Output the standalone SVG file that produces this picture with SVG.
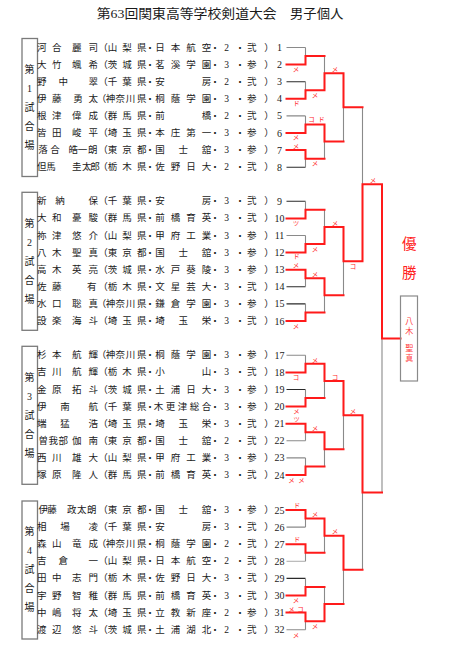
<svg xmlns="http://www.w3.org/2000/svg" width="459" height="650" viewBox="0 0 459 650">
<style>
.t{font-family:"Liberation Serif","Noto Sans CJK JP",serif;font-size:9.5px;fill:#1a1a1a;text-anchor:middle;dominant-baseline:central}
.n{font-family:"Liberation Serif","Noto Sans CJK JP",serif;font-size:10px;fill:#1a1a1a;text-anchor:middle;dominant-baseline:central}
.ttl{font-family:"Liberation Serif","Noto Sans CJK JP",serif;font-size:13px;fill:#1a1a1a;dominant-baseline:central}
.bx{fill:none;stroke:#7a7a7a;stroke-width:1.3}
.bt{font-family:"Liberation Serif","Noto Sans CJK JP",serif;font-size:10px;fill:#1a1a1a;text-anchor:middle;dominant-baseline:central}
.g{stroke:#8a8a8a;stroke-width:1.1;fill:none}
.k{stroke:#2a2a2a;stroke-width:1.1;fill:none}
.lg{stroke:#b0b0b0;stroke-width:1.1;fill:none}
.r{stroke:#ff1a1a;stroke-width:2;fill:none;stroke-linejoin:miter;stroke-linecap:square}
.lb{font-family:"Noto Sans CJK JP",sans-serif;font-size:6.5px;fill:#ff2a2a;text-anchor:middle;dominant-baseline:central}
.win{font-family:"Noto Sans CJK JP",sans-serif;font-size:14.5px;fill:#ff2020;text-anchor:middle;dominant-baseline:central}
.wn{font-family:"Noto Sans CJK JP",sans-serif;font-size:8px;fill:#ff4040;text-anchor:middle;dominant-baseline:central}
</style>

<text class="ttl" x="96.7" y="13.3" textLength="180" lengthAdjust="spacingAndGlyphs">第63回関東高等学校剣道大会</text>
<text class="ttl" x="290" y="13.3" textLength="53.3" lengthAdjust="spacingAndGlyphs">男子個人</text>

<g id="block1">
<rect class="bx" x="22" y="38.5" width="15.5" height="138"/>
<text class="bt" x="29.5" y="69.4">第</text><text class="bt" x="29.5" y="88.4">1</text><text class="bt" x="29.5" y="107.4">試</text><text class="bt" x="29.5" y="126.4">合</text><text class="bt" x="29.5" y="145.4">場</text>
</g>
<g id="block2">
<rect class="bx" x="22" y="192.3" width="15.5" height="138"/>
<text class="bt" x="29.5" y="223.2">第</text><text class="bt" x="29.5" y="242.2">2</text><text class="bt" x="29.5" y="261.2">試</text><text class="bt" x="29.5" y="280.2">合</text><text class="bt" x="29.5" y="299.2">場</text>
</g>
<g id="block3">
<rect class="bx" x="22" y="346.3" width="15.5" height="138"/>
<text class="bt" x="29.5" y="377.2">第</text><text class="bt" x="29.5" y="396.2">3</text><text class="bt" x="29.5" y="415.2">試</text><text class="bt" x="29.5" y="434.2">合</text><text class="bt" x="29.5" y="453.2">場</text>
</g>
<g id="block4">
<rect class="bx" x="22" y="501" width="15.5" height="138"/>
<text class="bt" x="29.5" y="531.9">第</text><text class="bt" x="29.5" y="550.9">4</text><text class="bt" x="29.5" y="569.9">試</text><text class="bt" x="29.5" y="588.9">合</text><text class="bt" x="29.5" y="607.9">場</text>
</g>

<g id="p1"><text class="t" y="47.5" x="41.7 56.7 76.7 93.3 103 112.5 127 141.7 150 160 175.5 191 206.5 215 226.7 240 251.7 269">河合麗司（山梨県・日本航空・2・弐）</text><text class="n" x="279.5" y="47.5">1</text></g>
<g id="p2"><text class="t" y="64.6" x="41.7 56.7 76.7 93.3 103 112.5 127 141.7 150 160 175.5 191 206.5 215 226.7 240 251.7 269">大竹颯希（茨城県・茗溪学園・3・参）</text><text class="n" x="279.5" y="64.6">2</text></g>
<g id="p3"><text class="t" y="81.7" x="41.7 63.3 93.3 103 112.5 127 141.7 150 160 206.5 215 226.7 240 251.7 269">野中翠（千葉県・安房・2・弐）</text><text class="n" x="279.5" y="81.7">3</text></g>
<g id="p4"><text class="t" y="98.8" x="41.7 56.7 78 93.3 101.5 110.5 120.3 130.5 141.7 150 160 175.5 191 206.5 215 226.7 240 251.7 269">伊藤勇太（神奈川県・桐蔭学園・3・参）</text><text class="n" x="279.5" y="98.8">4</text></g>
<g id="p5"><text class="t" y="115.9" x="41.7 56.7 76.7 93.3 103 112.5 127 141.7 150 160 206.5 215 226.7 240 251.7 269">根津偉成（群馬県・前橋・2・弐）</text><text class="n" x="279.5" y="115.9">5</text></g>
<g id="p6"><text class="t" y="133" x="41.7 56.7 76.7 93.3 103 112.5 127 141.7 150 160 175.5 191 206.5 215 226.7 240 251.7 269">皆田峻平（埼玉県・本庄第一・3・参）</text><text class="n" x="279.5" y="133">6</text></g>
<g id="p7"><text class="t" y="150.1" x="43 55 73.3 82.5 92.7 103 112.5 127 141.7 150 160 183.3 206.5 215 226.7 240 251.7 269">落合皓一朗（東京都・国士舘・3・参）</text><text class="n" x="279.5" y="150.1">7</text></g>
<g id="p8"><text class="t" y="167.2" x="41.7 51 76.7 86.7 95 103 112.5 127 141.7 150 160 175.5 191 206.5 215 226.7 240 251.7 269">但馬圭太郎（栃木県・佐野日大・2・弐）</text><text class="n" x="279.5" y="167.2">8</text></g>

<g id="p9"><text class="t" y="201.3" x="41.7 60 93.3 103 112.5 127 141.7 150 160 206.5 215 226.7 240 251.7 269">新納保（千葉県・安房・3・弐）</text><text class="n" x="279.5" y="201.3">9</text></g>
<g id="p10"><text class="t" y="218.4" x="41.7 56.7 76.7 93.3 103 112.5 127 141.7 150 160 175.5 191 206.5 215 226.7 240 251.7 269">大和憂駿（群馬県・前橋育英・3・弐）</text><text class="n" x="279.5" y="218.4">10</text></g>
<g id="p11"><text class="t" y="235.5" x="41.7 56.7 76.7 93.3 103 112.5 127 141.7 150 160 175.5 191 206.5 215 226.7 240 251.7 269">祢津悠介（山梨県・甲府工業・3・参）</text><text class="n" x="279.5" y="235.5">11</text></g>
<g id="p12"><text class="t" y="252.6" x="41.7 56.7 76.7 93.3 103 112.5 127 141.7 150 160 183.3 206.5 215 226.7 240 251.7 269">八木聖真（東京都・国士舘・3・参）</text><text class="n" x="279.5" y="252.6">12</text></g>
<g id="p13"><text class="t" y="269.7" x="41.7 56.7 76.7 93.3 103 112.5 127 141.7 150 160 175.5 191 206.5 215 226.7 240 251.7 269">高木英亮（茨城県・水戸葵陵・3・参）</text><text class="n" x="279.5" y="269.7">13</text></g>
<g id="p14"><text class="t" y="286.8" x="41.7 56.7 91.7 103 112.5 127 141.7 150 160 175.5 191 206.5 215 226.7 240 251.7 269">佐藤有（栃木県・文星芸大・3・弐）</text><text class="n" x="279.5" y="286.8">14</text></g>
<g id="p15"><text class="t" y="303.9" x="41.7 56.7 76.7 93.3 101.5 110.5 120.3 130.5 141.7 150 160 175.5 191 206.5 215 226.7 240 251.7 269">水口聡真（神奈川県・鎌倉学園・3・参）</text><text class="n" x="279.5" y="303.9">15</text></g>
<g id="p16"><text class="t" y="321" x="41.7 56.7 76.7 93.3 103 112.5 127 141.7 150 160 183.3 206.5 215 226.7 240 251.7 269">設楽海斗（埼玉県・埼玉栄・3・弐）</text><text class="n" x="279.5" y="321">16</text></g>

<g id="p17"><text class="t" y="355.3" x="41.7 56.7 76.7 93.3 101.5 110.5 120.3 130.5 141.7 150 160 175.5 191 206.5 215 226.7 240 251.7 269">杉本航輝（神奈川県・桐蔭学園・3・参）</text><text class="n" x="279.5" y="355.3">17</text></g>
<g id="p18"><text class="t" y="372.4" x="41.7 56.7 76.7 93.3 103 112.5 127 141.7 150 160 206.5 215 226.7 240 251.7 269">吉川航輝（栃木県・小山・3・弐）</text><text class="n" x="279.5" y="372.4">18</text></g>
<g id="p19"><text class="t" y="389.5" x="41.7 56.7 76.7 93.3 103 112.5 127 141.7 150 160 175.5 191 206.5 215 226.7 240 251.7 269">金原拓斗（茨城県・土浦日大・3・参）</text><text class="n" x="279.5" y="389.5">19</text></g>
<g id="p20"><text class="t" y="406.6" x="41.7 65 93.3 103 112.5 127 141.7 150 158.5 170.5 182.5 194.5 206.5 215 226.7 240 251.7 269">伊南航（千葉県・木更津総合・3・参）</text><text class="n" x="279.5" y="406.6">20</text></g>
<g id="p21"><text class="t" y="423.7" x="41.7 65 93.3 103 112.5 127 141.7 150 160 183.3 206.5 215 226.7 240 251.7 269">端猛浩（埼玉県・埼玉栄・3・弐）</text><text class="n" x="279.5" y="423.7">21</text></g>
<g id="p22"><text class="t" y="440.8" x="43.3 53.3 63.3 76.7 93.3 103 112.5 127 141.7 150 160 183.3 206.5 215 226.7 240 251.7 269">曽我部伽南（東京都・国士舘・2・弐）</text><text class="n" x="279.5" y="440.8">22</text></g>
<g id="p23"><text class="t" y="457.9" x="41.7 56.7 76.7 93.3 103 112.5 127 141.7 150 160 175.5 191 206.5 215 226.7 240 251.7 269">西川雄大（山梨県・甲府工業・3・参）</text><text class="n" x="279.5" y="457.9">23</text></g>
<g id="p24"><text class="t" y="475" x="41.7 56.7 76.7 93.3 103 112.5 127 141.7 150 160 175.5 191 206.5 215 226.7 240 251.7 269">塚原隆人（群馬県・前橋育英・3・弐）</text><text class="n" x="279.5" y="475">24</text></g>

<g id="p25"><text class="t" y="510" x="43.3 52 71.7 81.7 91.7 103 112.5 127 141.7 150 160 183.3 206.5 215 226.7 240 251.7 269">伊藤政太朗（東京都・国士舘・3・参）</text><text class="n" x="279.5" y="510">25</text></g>
<g id="p26"><text class="t" y="527.1" x="41.7 65 93.3 103 112.5 127 141.7 150 160 206.5 215 226.7 240 251.7 269">相場凌（千葉県・安房・3・弐）</text><text class="n" x="279.5" y="527.1">26</text></g>
<g id="p27"><text class="t" y="544.2" x="41.7 56.7 76.7 93.3 101.5 110.5 120.3 130.5 141.7 150 160 175.5 191 206.5 215 226.7 240 251.7 269">森山竜成（神奈川県・桐蔭学園・2・弐）</text><text class="n" x="279.5" y="544.2">27</text></g>
<g id="p28"><text class="t" y="561.3" x="41.7 63.3 93.3 103 112.5 127 141.7 150 160 175.5 191 206.5 215 226.7 240 251.7 269">吉倉一（山梨県・日本航空・2・弐）</text><text class="n" x="279.5" y="561.3">28</text></g>
<g id="p29"><text class="t" y="578.4" x="41.7 56.7 76.7 93.3 103 112.5 127 141.7 150 160 175.5 191 206.5 215 226.7 240 251.7 269">田中志門（栃木県・佐野日大・3・弐）</text><text class="n" x="279.5" y="578.4">29</text></g>
<g id="p30"><text class="t" y="595.5" x="41.7 56.7 76.7 93.3 103 112.5 127 141.7 150 160 175.5 191 206.5 215 226.7 240 251.7 269">宇野智稚（群馬県・前橋育英・3・弐）</text><text class="n" x="279.5" y="595.5">30</text></g>
<g id="p31"><text class="t" y="612.6" x="41.7 56.7 76.7 93.3 103 112.5 127 141.7 150 160 175.5 191 206.5 215 226.7 240 251.7 269">中嶋将太（埼玉県・立教新座・2・参）</text><text class="n" x="279.5" y="612.6">31</text></g>
<g id="p32"><text class="t" y="629.7" x="41.7 56.7 76.7 93.3 103 112.5 127 141.7 150 160 175.5 191 206.5 215 226.7 240 251.7 269">渡辺悠斗（茨城県・土浦湖北・2・弐）</text><text class="n" x="279.5" y="629.7">32</text></g>

<g id="connectors">
<path class="g" d="M286.5 47.5H305.5M286.5 115.9H305.5M286.5 235.5H305.5M286.5 355.3H305.5M286.5 440.8H305.5M286.5 457.9H305.5M286.5 527.1H305.5M286.5 629.7H305.5"/>
<path class="k" d="M286.5 81.7H305.5M286.5 167.2H305.5M286.5 201.3H305.5M286.5 286.8H305.5M286.5 303.9H305.5M286.5 389.5H305.5M286.5 578.4H305.5"/>
<path class="lg" d="M286.5 561.3H305.5"/>
<path class="g" d="M305.5 47.5V64.6M305.5 81.7V98.8M305.5 115.9V133M305.5 150.1V167.2M305.5 201.3V218.4M305.5 235.5V252.6M305.5 269.7V286.8M305.5 303.9V321M305.5 355.3V372.4M305.5 389.5V406.6M305.5 423.7V440.8M305.5 457.9V475M305.5 510V527.1M305.5 544.2V561.3M305.5 578.4V595.5M305.5 612.6V629.7"/>
<path class="g" d="M324.5 56.05V90.25M324.5 124.45V158.65M324.5 209.85V244.05M324.5 278.25V312.45M324.5 363.85V398.05M324.5 432.25V466.45M324.5 518.55V552.75M324.5 586.95V621.15"/>
<path class="g" d="M343.5 73.15V141.55M343.5 226.95V295.35M343.5 380.95V449.35M343.5 535.65V604.05"/>
<path class="g" d="M362.5 107.35V261.15M362.5 415.15V569.85M382 184.25V492.5"/>
<polyline class="r" points="286.5,64.6 305.5,64.6 305.5,56.05 324.5,56.05"/>
<polyline class="r" points="286.5,98.8 305.5,98.8 305.5,90.25 324.5,90.25 324.5,73.15 343.5,73.15 343.5,107.35 362.5,107.35"/>
<polyline class="r" points="286.5,133 305.5,133 305.5,124.45 324.5,124.45 324.5,141.55 343.5,141.55"/>
<polyline class="r" points="286.5,150.1 305.5,150.1 305.5,158.65 324.5,158.65"/>
<polyline class="r" points="286.5,218.4 305.5,218.4 305.5,209.85 324.5,209.85"/>
<polyline class="r" points="286.5,252.6 305.5,252.6 305.5,244.05 324.5,244.05 324.5,226.95 343.5,226.95 343.5,261.15 362.5,261.15 362.5,184.25 382,184.25 382,338.4 400.5,338.4"/>
<polyline class="r" points="286.5,269.7 305.5,269.7 305.5,278.25 324.5,278.25 324.5,295.35 343.5,295.35"/>
<polyline class="r" points="286.5,321 305.5,321 305.5,312.45 324.5,312.45"/>
<polyline class="r" points="286.5,372.4 305.5,372.4 305.5,363.85 324.5,363.85 324.5,380.95 343.5,380.95 343.5,415.15 362.5,415.15 362.5,492.5 382,492.5"/>
<polyline class="r" points="286.5,406.6 305.5,406.6 305.5,398.05 324.5,398.05"/>
<polyline class="r" points="286.5,423.7 305.5,423.7 305.5,432.25 324.5,432.25 324.5,449.35 343.5,449.35"/>
<polyline class="r" points="286.5,475 305.5,475 305.5,466.45 324.5,466.45"/>
<polyline class="r" points="286.5,510 305.5,510 305.5,518.55 324.5,518.55 324.5,535.65 343.5,535.65 343.5,569.85 362.5,569.85"/>
<polyline class="r" points="286.5,544.2 305.5,544.2 305.5,552.75 324.5,552.75"/>
<polyline class="r" points="286.5,595.5 305.5,595.5 305.5,586.95 324.5,586.95"/>
<polyline class="r" points="286.5,612.6 305.5,612.6 305.5,621.15 324.5,621.15 324.5,604.05 343.5,604.05"/>
<text class="lb" x="296" y="69">メ</text>
<text class="lb" x="296.5" y="102.5">ド</text>
<text class="lb" x="315" y="94.5">メ</text>
<text class="lb" x="335" y="68.5">メ</text>
<text class="lb" x="311.5" y="118.5">コ</text>
<text class="lb" x="321.5" y="118.5">ド</text>
<text class="lb" x="296" y="137">メ</text>
<text class="lb" x="296" y="146">メ</text>
<text class="lb" x="315" y="163">メ</text>
<text class="lb" x="373" y="179.5">メ</text>
<text class="lb" x="296" y="223">ツ</text>
<text class="lb" x="296.5" y="256">ド</text>
<text class="lb" x="315" y="248.5">メ</text>
<text class="lb" x="335" y="222.5">メ</text>
<text class="lb" x="296" y="265">メ</text>
<text class="lb" x="315" y="273.5">メ</text>
<text class="lb" x="296" y="326">メ</text>
<text class="lb" x="353" y="266">コ</text>
<text class="lb" x="296" y="377">コ</text>
<text class="lb" x="315" y="359.5">メ</text>
<text class="lb" x="335" y="376.5">コ</text>
<text class="lb" x="296.5" y="410.5">メ</text>
<text class="lb" x="296.5" y="419">ツ</text>
<text class="lb" x="315" y="427.5">メ</text>
<text class="lb" x="353" y="410.5">メ</text>
<text class="lb" x="291.5" y="480">メ</text>
<text class="lb" x="301.5" y="480">メ</text>
<text class="lb" x="297" y="504.5">ド</text>
<text class="lb" x="315" y="514">メ</text>
<text class="lb" x="297" y="538.5">ド</text>
<text class="lb" x="335" y="531">メ</text>
<text class="lb" x="296" y="599.5">メ</text>
<text class="lb" x="291.5" y="608.5">メ</text>
<text class="lb" x="300.5" y="608.5">コ</text>
<text class="lb" x="296" y="635">メ</text>
<text class="lb" x="315" y="626">メ</text>
</g>

<g id="champion">
<text class="win" x="409.3" y="242.7">優</text>
<text class="win" x="409.3" y="271.7">勝</text>
<rect x="400.5" y="296" width="17" height="85" fill="none" stroke="#8a8a8a" stroke-width="1.2"/>
<text class="wn" x="409.3" y="320.3">八</text>
<text class="wn" x="409.3" y="330.3">木</text>
<text class="wn" x="409.3" y="347.5">聖</text>
<text class="wn" x="409.3" y="357.5">真</text>
</g>
</svg>
